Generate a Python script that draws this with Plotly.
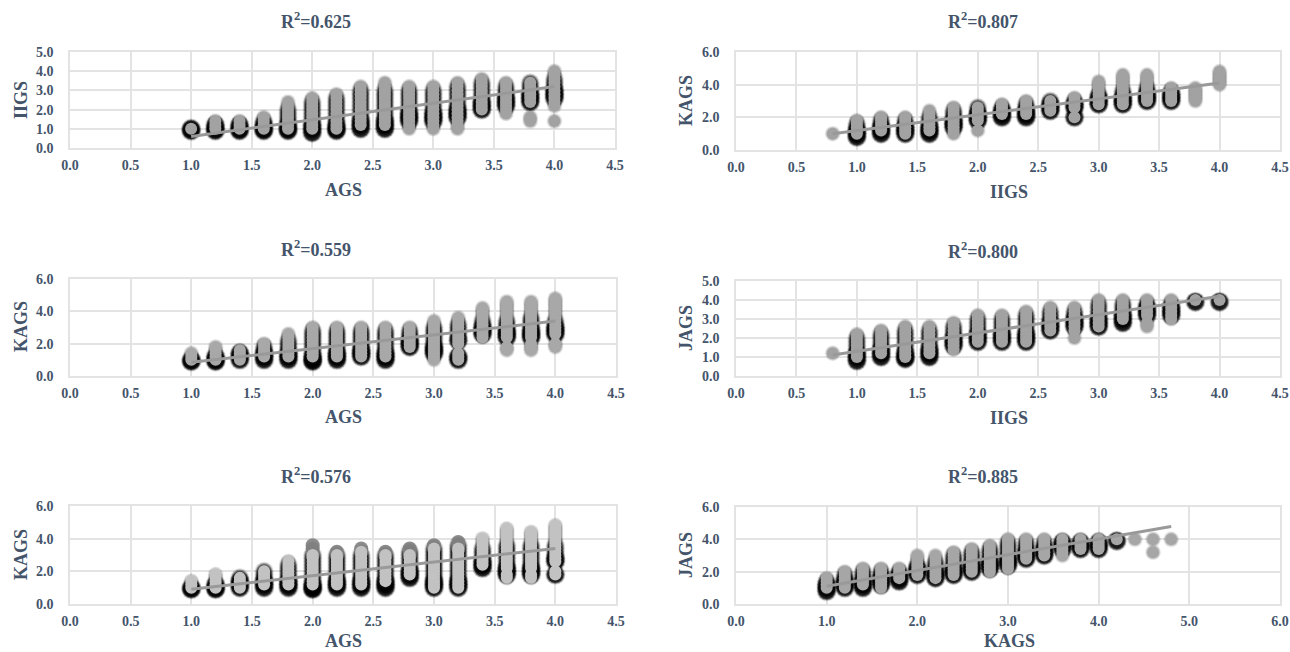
import plotly.graph_objects as go

W, H = 1290, 652
TEXT = "#44546a"
GRID = "#e3e3e3"
FONT = "Liberation Serif"

# ---- panel 1: AGS vs IIGS
P1_X = [1.0, 1.2, 1.4, 1.6, 1.8, 2.0, 2.2, 2.4, 2.6, 2.8, 3.0, 3.2, 3.4, 3.6, 3.8, 4.0]
P1_GRAY = [
    [1.0],
    [1.0, 1.2, 1.4],
    [1.0, 1.2, 1.4],
    [1.0, 1.2, 1.4, 1.6],
    [1.0, 1.2, 1.4, 1.6, 1.8, 2.0, 2.2, 2.4],
    [1.0, 1.2, 1.4, 1.6, 1.8, 2.0, 2.2, 2.4, 2.6],
    [1.0, 1.2, 1.4, 1.6, 1.8, 2.0, 2.2, 2.4, 2.6, 2.8],
    [1.2, 1.4, 1.6, 1.8, 2.0, 2.2, 2.4, 2.6, 2.8, 3.0, 3.2],
    [1.2, 1.4, 1.6, 1.8, 2.0, 2.2, 2.4, 2.6, 2.8, 3.0, 3.2, 3.4],
    [1.0, 1.2, 1.4, 1.6, 1.8, 2.0, 2.2, 2.4, 2.6, 2.8, 3.0, 3.2],
    [1.0, 1.2, 1.4, 1.6, 1.8, 2.0, 2.2, 2.4, 2.6, 2.8, 3.0, 3.2],
    [1.0, 1.2, 1.4, 1.6, 1.8, 2.0, 2.2, 2.4, 2.6, 2.8, 3.0, 3.2, 3.4],
    [2.0, 2.2, 2.4, 2.6, 2.8, 3.0, 3.2, 3.4, 3.6],
    [1.8, 2.0, 2.2, 2.4, 2.6, 2.8, 3.0, 3.2, 3.4],
    [1.4, 1.6, 2.4, 2.6, 2.8, 3.0, 3.2, 3.4],
    [1.4, 2.2, 2.4, 2.6, 2.8, 3.0, 3.2, 3.4, 3.6, 3.8, 4.0],
]
P1_DARK = [
    [0.9, 1.0],
    [0.9, 1.0, 1.2],
    [0.9, 1.0, 1.2],
    [0.9, 1.0, 1.2, 1.4],
    [0.9, 1.0, 1.2, 1.4, 1.6, 1.8, 2.0],
    [0.8, 1.0, 1.2, 1.4, 1.6, 1.8, 2.0, 2.2, 2.4],
    [0.9, 1.0, 1.2, 1.4, 1.6, 1.8, 2.0, 2.2, 2.4, 2.6],
    [1.0, 1.2, 1.4, 1.6, 1.8, 2.0, 2.2, 2.4, 2.6, 2.8, 3.0],
    [1.0, 1.2, 1.4, 1.6, 1.8, 2.0, 2.2, 2.4, 2.6, 2.8, 3.0],
    [1.4, 1.6, 1.8, 2.0, 2.2, 2.4, 2.6, 2.8, 3.0],
    [1.4, 1.6, 1.8, 2.0, 2.2, 2.4, 2.6, 2.8, 3.0],
    [1.6, 1.8, 2.0, 2.2, 2.4, 2.6, 2.8, 3.0, 3.2],
    [2.0, 2.2, 2.4, 2.6, 2.8, 3.0, 3.2, 3.4],
    [2.2, 2.4, 2.6, 2.8, 3.0, 3.2],
    [2.4, 2.6, 2.8, 3.0, 3.2, 3.4],
    [2.6, 2.8, 3.0, 3.2, 3.4, 3.6],
]
P1_TREND_X = [1.0, 4.0]
P1_TREND_Y = [0.6, 3.2]

# ---- panel 2: IIGS vs KAGS
P2_X = [0.8, 1.0, 1.2, 1.4, 1.6, 1.8, 2.0, 2.2, 2.4, 2.6, 2.8, 3.0, 3.2, 3.4, 3.6, 3.8, 4.0]
P2_GRAY = [
    [1.0],
    [1.0, 1.2, 1.4, 1.6, 1.8],
    [1.2, 1.4, 1.6, 1.8, 2.0],
    [1.0, 1.2, 1.4, 1.6, 1.8, 2.0],
    [1.2, 1.4, 1.6, 1.8, 2.0, 2.2, 2.4],
    [1.0, 1.2, 1.4, 1.6, 1.8, 2.0, 2.2, 2.4, 2.6],
    [1.2, 1.8, 2.0, 2.2, 2.4, 2.6],
    [2.2, 2.4, 2.6, 2.8],
    [2.2, 2.4, 2.6, 2.8, 3.0],
    [2.4, 2.6, 2.8, 3.0],
    [2.0, 2.6, 2.8, 3.0, 3.2],
    [2.8, 3.0, 3.2, 3.4, 3.6, 3.8, 4.0, 4.2],
    [2.8, 3.0, 3.2, 3.4, 3.6, 3.8, 4.0, 4.2, 4.4, 4.6],
    [3.0, 3.2, 3.4, 3.6, 3.8, 4.0, 4.2, 4.4, 4.6],
    [3.0, 3.2, 3.4, 3.6, 3.8],
    [3.0, 3.2, 3.4, 3.6, 3.8],
    [4.0, 4.2, 4.4, 4.6, 4.8],
]
P2_DARK = [
    [],
    [0.8, 1.0, 1.2, 1.4, 1.6],
    [1.0, 1.2, 1.4, 1.6, 1.8],
    [1.0, 1.2, 1.4, 1.6, 1.8],
    [1.0, 1.2, 1.4, 1.6, 1.8, 2.0],
    [1.4, 1.6, 1.8, 2.0, 2.2, 2.4],
    [1.8, 2.0, 2.2, 2.4, 2.6],
    [2.0, 2.2, 2.4, 2.6],
    [2.0, 2.2, 2.4, 2.6, 2.8],
    [2.4, 2.6, 2.8, 3.0],
    [2.0, 2.6, 2.8, 3.0],
    [2.8, 3.0, 3.2, 3.4],
    [2.8, 3.0, 3.2, 3.4, 3.6],
    [3.0, 3.2, 3.4, 3.6, 3.8],
    [3.0, 3.2, 3.4, 3.6],
    [],
    [],
]
P2_TREND_X = [0.8, 4.0]
P2_TREND_Y = [1.0, 4.1]

# ---- panel 3: AGS vs KAGS
P3_X = [1.0, 1.2, 1.4, 1.6, 1.8, 2.0, 2.2, 2.4, 2.6, 2.8, 3.0, 3.2, 3.4, 3.6, 3.8, 4.0]
P3_GRAY = [
    [1.0, 1.2, 1.4],
    [1.0, 1.2, 1.4, 1.6, 1.8],
    [1.0, 1.2, 1.4, 1.6],
    [1.2, 1.4, 1.6, 1.8, 2.0],
    [1.2, 1.4, 1.6, 1.8, 2.0, 2.2, 2.4, 2.6],
    [1.2, 1.4, 1.6, 1.8, 2.0, 2.2, 2.4, 2.6, 2.8, 3.0],
    [1.2, 1.4, 1.6, 1.8, 2.0, 2.2, 2.4, 2.6, 2.8, 3.0],
    [1.2, 1.4, 1.6, 1.8, 2.0, 2.2, 2.4, 2.6, 2.8, 3.0],
    [1.2, 1.4, 1.6, 1.8, 2.0, 2.2, 2.4, 2.6, 2.8, 3.0],
    [1.8, 2.0, 2.2, 2.4, 2.6, 2.8, 3.0],
    [1.0, 1.2, 1.4, 1.6, 1.8, 2.0, 2.2, 2.4, 2.6, 2.8, 3.0, 3.2, 3.4],
    [1.0, 1.2, 1.4, 2.0, 2.2, 2.4, 2.6, 2.8, 3.0, 3.2, 3.4, 3.6],
    [2.4, 2.6, 2.8, 3.0, 3.2, 3.4, 3.6, 3.8, 4.0, 4.2],
    [1.6, 1.8, 2.4, 2.6, 2.8, 3.0, 3.2, 3.4, 3.6, 3.8, 4.0, 4.2, 4.4, 4.6],
    [1.6, 1.8, 2.0, 2.4, 2.6, 2.8, 3.0, 3.2, 3.4, 3.6, 3.8, 4.0, 4.2, 4.4, 4.6],
    [1.8, 2.0, 2.6, 2.8, 3.0, 3.2, 3.4, 3.6, 3.8, 4.0, 4.2, 4.4, 4.6, 4.8],
]
P3_DARK = [
    [0.9, 1.0],
    [0.9, 1.0, 1.2],
    [1.0, 1.2, 1.4],
    [1.0, 1.2, 1.4, 1.6, 1.8],
    [1.0, 1.2, 1.4, 1.6, 1.8, 2.0, 2.2],
    [0.9, 1.0, 1.2, 1.4, 1.6, 1.8, 2.0, 2.2, 2.4, 2.6, 2.8],
    [1.0, 1.2, 1.4, 1.6, 1.8, 2.0, 2.2, 2.4, 2.6, 2.8],
    [1.2, 1.4, 1.6, 1.8, 2.0, 2.2, 2.4, 2.6, 2.8],
    [1.0, 1.2, 1.4, 1.6, 1.8, 2.0, 2.2, 2.4, 2.6, 2.8],
    [1.8, 2.0, 2.2, 2.4, 2.6, 2.8],
    [1.4, 1.6, 1.8, 2.0, 2.2, 2.4, 2.6, 2.8, 3.0],
    [1.0, 1.2, 2.2, 2.4, 2.6, 2.8, 3.0, 3.2],
    [2.6, 2.8, 3.0, 3.2, 3.4],
    [2.4, 2.6, 2.8, 3.0, 3.2, 3.4],
    [2.4, 2.6, 2.8, 3.0, 3.2, 3.4, 3.6],
    [2.6, 2.8, 3.0, 3.2, 3.4],
]
P3_TREND_X = [1.0, 4.0]
P3_TREND_Y = [0.85, 3.4]

# ---- panel 4: IIGS vs JAGS
P4_X = [0.8, 1.0, 1.2, 1.4, 1.6, 1.8, 2.0, 2.2, 2.4, 2.6, 2.8, 3.0, 3.2, 3.4, 3.6, 3.8, 4.0]
P4_GRAY = [
    [1.2],
    [1.0, 1.2, 1.4, 1.6, 1.8, 2.0, 2.2],
    [1.2, 1.4, 1.6, 1.8, 2.0, 2.2, 2.4],
    [1.0, 1.2, 1.4, 1.6, 1.8, 2.0, 2.2, 2.4, 2.6],
    [1.2, 1.4, 1.6, 1.8, 2.0, 2.2, 2.4, 2.6],
    [1.4, 1.6, 1.8, 2.0, 2.2, 2.4, 2.6, 2.8],
    [1.8, 2.0, 2.2, 2.4, 2.6, 2.8, 3.0, 3.2],
    [1.8, 2.0, 2.2, 2.4, 2.6, 2.8, 3.0, 3.2],
    [1.8, 2.0, 2.2, 2.4, 2.6, 2.8, 3.0, 3.2, 3.4],
    [2.4, 2.6, 2.8, 3.0, 3.2, 3.4, 3.6],
    [2.0, 2.4, 2.6, 2.8, 3.0, 3.2, 3.4, 3.6],
    [2.6, 2.8, 3.0, 3.2, 3.4, 3.6, 3.8, 4.0],
    [3.0, 3.2, 3.4, 3.6, 3.8, 4.0],
    [2.6, 2.8, 3.2, 3.4, 3.6, 3.8, 4.0],
    [3.0, 3.2, 3.4, 3.6, 3.8, 4.0],
    [4.0],
    [4.0],
]
P4_DARK = [
    [],
    [0.8, 1.0, 1.2, 1.4, 1.6, 1.8, 2.0],
    [1.0, 1.2, 1.4, 1.6, 1.8, 2.0, 2.2],
    [0.9, 1.0, 1.2, 1.4, 1.6, 1.8, 2.0, 2.2, 2.4],
    [1.0, 1.2, 1.4, 1.6, 1.8, 2.0, 2.2, 2.4],
    [1.6, 1.8, 2.0, 2.2, 2.4, 2.6],
    [1.8, 2.0, 2.2, 2.4, 2.6, 2.8, 3.0],
    [1.8, 2.0, 2.2, 2.4, 2.6, 2.8, 3.0],
    [1.8, 2.0, 2.2, 2.4, 2.6, 2.8, 3.0, 3.2],
    [2.4, 2.6, 2.8, 3.0, 3.2, 3.4],
    [2.6, 2.8, 3.0, 3.2, 3.4],
    [2.6, 2.8, 3.0, 3.2, 3.4, 3.6, 3.8],
    [2.8, 3.0, 3.2, 3.4, 3.6, 3.8],
    [3.2, 3.4, 3.6, 3.8],
    [3.2, 3.4, 3.6, 3.8],
    [3.9],
    [3.9],
]
P4_TREND_X = [0.8, 4.0]
P4_TREND_Y = [1.1, 4.2]

# ---- panel 5: AGS vs KAGS
P5_X = [1.0, 1.2, 1.4, 1.6, 1.8, 2.0, 2.2, 2.4, 2.6, 2.8, 3.0, 3.2, 3.4, 3.6, 3.8, 4.0]
P5_GRAY = [
    [1.0, 1.2, 1.4],
    [1.0, 1.2, 1.4, 1.6, 1.8],
    [1.0, 1.2, 1.4, 1.6],
    [1.2, 1.4, 1.6, 1.8, 2.0],
    [1.2, 1.4, 1.6, 1.8, 2.0, 2.2, 2.4, 2.6],
    [1.2, 1.4, 1.6, 1.8, 2.0, 2.2, 2.4, 2.6, 2.8, 3.0],
    [1.2, 1.4, 1.6, 1.8, 2.0, 2.2, 2.4, 2.6, 2.8, 3.0],
    [1.2, 1.4, 1.6, 1.8, 2.0, 2.2, 2.4, 2.6, 2.8, 3.0, 3.2],
    [1.4, 1.6, 1.8, 2.0, 2.2, 2.4, 2.6, 2.8, 3.0],
    [1.8, 2.0, 2.2, 2.4, 2.6, 2.8, 3.0],
    [1.0, 1.2, 1.4, 1.6, 1.8, 2.0, 2.2, 2.4, 2.6, 2.8, 3.0, 3.2, 3.4],
    [1.0, 1.2, 1.4, 1.6, 1.8, 2.0, 2.2, 2.4, 2.6, 2.8, 3.0, 3.2, 3.4],
    [2.4, 2.6, 2.8, 3.0, 3.2, 3.4, 3.6, 3.8, 4.0],
    [1.6, 1.8, 2.2, 2.4, 2.6, 2.8, 3.0, 3.2, 3.4, 3.6, 3.8, 4.0, 4.2, 4.4, 4.6],
    [1.6, 1.8, 2.2, 2.4, 2.6, 2.8, 3.0, 3.2, 3.4, 3.6, 3.8, 4.0, 4.2, 4.4],
    [1.8, 2.0, 2.6, 2.8, 3.0, 3.2, 3.4, 3.6, 3.8, 4.0, 4.2, 4.4, 4.6, 4.8],
]
P5_DARK = [
    [0.9, 1.0],
    [0.9, 1.0, 1.2],
    [1.0, 1.2, 1.4, 1.6],
    [1.0, 1.2, 1.4, 1.6, 1.8, 2.0],
    [1.0, 1.2, 1.4, 1.6, 1.8, 2.0, 2.2, 2.4],
    [0.9, 1.0, 1.2, 1.4, 1.6, 1.8, 2.0, 2.2, 2.4, 2.6, 2.8, 3.0],
    [1.0, 1.2, 1.4, 1.6, 1.8, 2.0, 2.2, 2.4, 2.6, 2.8, 3.0],
    [1.0, 1.2, 1.4, 1.6, 1.8, 2.0, 2.2, 2.4, 2.6, 2.8, 3.0],
    [1.0, 1.2, 1.4, 1.6, 1.8, 2.0, 2.2, 2.4, 2.6, 2.8, 3.0],
    [1.6, 1.8, 2.0, 2.2, 2.4, 2.6, 2.8, 3.0, 3.2],
    [1.0, 1.2, 1.4, 1.6, 1.8, 2.0, 2.2, 2.4, 2.6, 2.8, 3.0, 3.2, 3.4],
    [1.0, 1.2, 1.4, 1.6, 1.8, 2.0, 2.2, 2.4, 2.6, 2.8, 3.0, 3.2, 3.4, 3.6],
    [2.2, 2.4, 2.6, 2.8, 3.0, 3.2, 3.4],
    [1.8, 2.0, 2.2, 2.4, 2.6, 2.8, 3.0, 3.2, 3.4, 3.6],
    [1.8, 2.0, 2.2, 2.4, 2.6, 2.8, 3.0, 3.2, 3.4, 3.6],
    [1.8, 2.6, 2.8, 3.0, 3.2, 3.4, 3.6],
]
P5_MID = [
    [], [], [], [], [],
    [3.0, 3.2, 3.4, 3.6],
    [3.0, 3.2],
    [3.2, 3.4],
    [3.0, 3.2],
    [3.0, 3.2, 3.4],
    [3.4, 3.6],
    [3.4, 3.6, 3.8],
    [], [], [], [],
]
P5_TREND_X = [1.0, 4.0]
P5_TREND_Y = [0.9, 3.4]

# ---- panel 6: KAGS vs JAGS
P6_X = [1.0, 1.2, 1.4, 1.6, 1.8, 2.0, 2.2, 2.4, 2.6, 2.8, 3.0, 3.2, 3.4, 3.6, 3.8, 4.0, 4.2, 4.4, 4.6, 4.8]
P6_GRAY = [
    [1.0, 1.2, 1.4, 1.6],
    [1.0, 1.2, 1.4, 1.6, 1.8, 2.0],
    [1.2, 1.4, 1.6, 1.8, 2.0, 2.2],
    [1.0, 1.2, 1.4, 1.6, 1.8, 2.0, 2.2],
    [1.6, 1.8, 2.0, 2.2],
    [1.8, 2.0, 2.2, 2.4, 2.6, 2.8, 3.0],
    [1.6, 1.8, 2.0, 2.2, 2.4, 2.6, 2.8, 3.0],
    [1.8, 2.0, 2.2, 2.4, 2.6, 2.8, 3.0, 3.2],
    [2.0, 2.2, 2.4, 2.6, 2.8, 3.0, 3.2, 3.4],
    [2.0, 2.2, 2.4, 2.6, 2.8, 3.0, 3.2, 3.4, 3.6],
    [2.2, 2.4, 2.6, 2.8, 3.0, 3.2, 3.4, 3.6, 3.8, 4.0],
    [2.8, 3.0, 3.2, 3.4, 3.6, 3.8, 4.0],
    [3.0, 3.2, 3.4, 3.6, 3.8, 4.0],
    [3.0, 3.2, 3.4, 3.6, 3.8, 4.0],
    [3.4, 3.6, 3.8, 4.0],
    [3.4, 3.6, 3.8, 4.0],
    [4.0],
    [4.0],
    [3.2, 4.0],
    [4.0],
]
P6_DARK = [
    [0.8, 1.0, 1.2, 1.4],
    [1.0, 1.2, 1.4, 1.6, 1.8],
    [1.0, 1.2, 1.4, 1.6, 1.8, 2.0],
    [1.2, 1.4, 1.6, 1.8, 2.0],
    [1.4, 1.6, 1.8, 2.0],
    [1.8, 2.0, 2.2, 2.4],
    [1.6, 1.8, 2.0, 2.2, 2.4, 2.6],
    [1.8, 2.0, 2.2, 2.4, 2.6, 2.8, 3.0],
    [2.0, 2.2, 2.4, 2.6, 2.8, 3.0, 3.2],
    [2.2, 2.4, 2.6, 2.8, 3.0, 3.2, 3.4],
    [2.4, 2.6, 2.8, 3.0, 3.2, 3.4, 3.6, 3.8],
    [2.8, 3.0, 3.2, 3.4, 3.6, 3.8],
    [3.0, 3.2, 3.4, 3.6, 3.8],
    [3.4, 3.6, 3.8],
    [3.4, 3.6, 3.8],
    [3.4, 3.6, 3.8],
    [3.9],
    [],
    [],
    [],
]
P6_TREND_X = [1.0, 4.8]
P6_TREND_Y = [1.1, 4.8]

PANELS = [
    ("R<sup>2</sup>=0.625", "AGS", "IIGS", P1_X, P1_GRAY, P1_DARK, [], P1_TREND_X, P1_TREND_Y, 4.5, 5, 1.0, "#a2a2a2"),
    ("R<sup>2</sup>=0.807", "IIGS", "KAGS", P2_X, P2_GRAY, P2_DARK, [], P2_TREND_X, P2_TREND_Y, 4.5, 6, 2.0, "#a2a2a2"),
    ("R<sup>2</sup>=0.559", "AGS", "KAGS", P3_X, P3_GRAY, P3_DARK, [], P3_TREND_X, P3_TREND_Y, 4.5, 6, 2.0, "#a8a8a8"),
    ("R<sup>2</sup>=0.800", "IIGS", "JAGS", P4_X, P4_GRAY, P4_DARK, [], P4_TREND_X, P4_TREND_Y, 4.5, 5, 1.0, "#a2a2a2"),
    ("R<sup>2</sup>=0.576", "AGS", "KAGS", P5_X, P5_GRAY, P5_DARK, P5_MID, P5_TREND_X, P5_TREND_Y, 4.5, 6, 2.0, "#c2c2c2"),
    ("R<sup>2</sup>=0.885", "KAGS", "JAGS", P6_X, P6_GRAY, P6_DARK, [], P6_TREND_X, P6_TREND_Y, 6.0, 6, 2.0, "#a6a6a6"),
]
# pixel boxes of each plot area: left, right, top, bottom
BOXES = [
    (70, 615, 52, 148), (736, 1280, 52, 150),
    (70, 616, 279, 376), (736, 1280, 281, 376),
    (70, 616, 506, 604), (736, 1280, 507, 604),
]
# pixel centres of the texts around each plot
TITLE_POS = [(316, 20), (983, 20), (316, 248), (983, 250), (316, 475), (983, 475)]
XTITLE_POS = [(343, 190), (1009, 192), (343, 417), (1009, 418), (343, 641), (1009, 641)]
YTITLE_POS = [(21, 100), (686, 101), (21, 327), (686, 328), (21, 555), (686, 555)]


def flat(xs, cols):
    px, py = [], []
    for x, col in zip(xs, cols):
        for y in col:
            px.append(x)
            py.append(y)
    return px, py


def label(text, pos, angle=0):
    return dict(text=text, xref="paper", yref="paper", x=pos[0] / W, y=1 - pos[1] / H,
                xanchor="center", yanchor="middle", showarrow=False, textangle=angle,
                font=dict(family=FONT, size=18, color=TEXT, weight="bold"))


fig = go.Figure()
annotations = []
layout_axes = {}
for i, (title, xt, yt, xs, gray, dark, mid, tx, ty, xmax, ymax, ydt, gcol) in enumerate(PANELS):
    n = "" if i == 0 else str(i + 1)
    xa, ya = "x" + n, "y" + n
    L, R, T, B = BOXES[i]
    dx, dy = flat(xs, dark)
    gx, gy = flat(xs, gray)
    mx, my = flat(xs, mid)
    cx, cy = flat(xs, [c[:3] for c in dark])
    # soft halo: stacked black layers, then grey markers, then the trend line
    for size, op in [(20, 0.03), (19, 0.05), (18, 0.08), (17, 0.12), (16, 0.16), (14, 0.30)]:
        fig.add_trace(go.Scatter(x=dx, y=dy, xaxis=xa, yaxis=ya, mode="markers",
                                 marker=dict(size=size, color="#000000", opacity=op, line_width=0)))
    for size, op in [(21, 0.05), (20, 0.09), (19, 0.14), (18, 0.2), (17, 0.3), (16, 0.4)]:
        fig.add_trace(go.Scatter(x=cx, y=cy, xaxis=xa, yaxis=ya, mode="markers",
                                 marker=dict(size=size, color="#000000", opacity=op, line_width=0)))
    for size, op in [(16, 0.06), (15, 0.08), (14, 0.12)]:
        fig.add_trace(go.Scatter(x=gx, y=gy, xaxis=xa, yaxis=ya, mode="markers",
                                 marker=dict(size=size, color="#333333", opacity=op, line_width=0)))
    if mx:
        fig.add_trace(go.Scatter(x=mx, y=my, xaxis=xa, yaxis=ya, mode="markers",
                                 marker=dict(size=14, color="#7f7f7f", opacity=0.9, line_width=0)))
    fig.add_trace(go.Scatter(x=gx, y=gy, xaxis=xa, yaxis=ya, mode="markers",
                             marker=dict(size=12, color=gcol, opacity=1, line_width=0)))
    fig.add_trace(go.Scatter(x=tx, y=ty, xaxis=xa, yaxis=ya, mode="lines",
                             line=dict(color="#999999", width=3)))
    common = dict(showgrid=True, gridcolor=GRID, gridwidth=1.5, zeroline=False, showline=True,
                  linecolor=GRID, linewidth=1.5, mirror=True, tickformat=".1f", automargin=False,
                  tickfont=dict(family=FONT, size=14, color=TEXT, weight="bold"),
                  ticks="outside", tickcolor="rgba(0,0,0,0)")
    layout_axes["xaxis" + n] = dict(common, domain=[L / W, R / W], range=[0, xmax], dtick=1.0 if xmax == 6.0 else 0.5,
                                    anchor=ya, ticklen=3)
    layout_axes["yaxis" + n] = dict(common, domain=[1 - B / H, 1 - T / H], range=[0, ymax], dtick=ydt,
                                    anchor=xa, ticklen=12)
    annotations.append(label(title, TITLE_POS[i]))
    annotations.append(label(xt, XTITLE_POS[i]))
    annotations.append(label(yt, YTITLE_POS[i], -90))

fig.update_layout(width=W, height=H, margin=dict(l=0, r=0, t=0, b=0), showlegend=False,
                  paper_bgcolor="white", plot_bgcolor="white",
                  font=dict(family=FONT, color=TEXT, weight="bold"),
                  annotations=annotations, **layout_axes)
fig.write_html("out.html", config={"displayModeBar": False},
               post_script="document.body.style.margin='0';document.documentElement.style.overflow='hidden';")
